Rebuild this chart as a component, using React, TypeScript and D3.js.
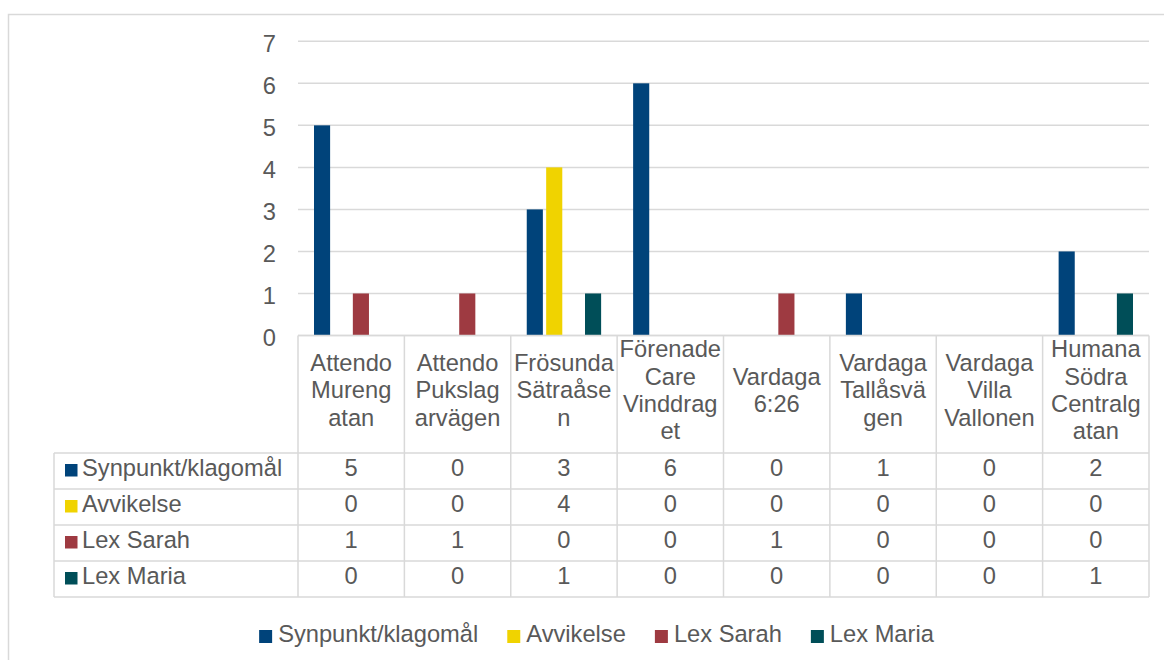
import React, { useMemo } from "react";
import * as d3 from "d3";

const categories = [
  "Attendo Murengatan",
  "Attendo Pukslagarvägen",
  "Frösunda Sätraåsen",
  "Förenade Care Vinddraget",
  "Vardaga 6:26",
  "Vardaga Tallåsvägen",
  "Vardaga Villa Vallonen",
  "Humana Södra Centralgatan",
];
const categoryLines = [
  ["Attendo", "Mureng", "atan"],
  ["Attendo", "Pukslag", "arvägen"],
  ["Frösunda", "Sätraåse", "n"],
  ["Förenade", "Care", "Vinddrag", "et"],
  ["Vardaga", "6:26"],
  ["Vardaga", "Tallåsvä", "gen"],
  ["Vardaga", "Villa", "Vallonen"],
  ["Humana", "Södra", "Centralg", "atan"],
];
const seriesNames = ["Synpunkt/klagomål", "Avvikelse", "Lex Sarah", "Lex Maria"];
const seriesColors = ["#00437a", "#f0d300", "#9e3a41", "#004e58"];
const synpunkt = [5, 0, 3, 6, 0, 1, 0, 2];
const avvikelse = [0, 0, 4, 0, 0, 0, 0, 0];
const lexSarah = [1, 1, 0, 0, 1, 0, 0, 0];
const lexMaria = [0, 0, 1, 0, 0, 0, 0, 1];
const seriesValues = [synpunkt, avvikelse, lexSarah, lexMaria];
const yTicks = [0, 1, 2, 3, 4, 5, 6, 7];

const FONT = "'Liberation Sans', Arial, sans-serif";
const FS = 23.7;
const TXT = "#595959";
const LINE = "#d9d9d9";

export default function App() {
  const W = 1164, H = 660;
  const plotL = 298, plotR = 1149, plotT = 41.3, plotB = 335.5;
  const tableL = 54;
  const headerB = 453;
  const rowH = 36;

  const x = d3.scaleBand<string>().domain(categories).range([plotL, plotR]).padding(0);
  const bw = x.bandwidth();
  const xs = d3
    .scaleBand<string>()
    .domain(seriesNames)
    .range([16, bw - 16])
    .paddingInner(0.17)
    .paddingOuter(0);
  const y = d3.scaleLinear().domain([0, 7]).range([plotB, plotT]);

  const widths = useMemo(() => {
    const c = document.createElement("canvas").getContext("2d");
    if (!c) return seriesNames.map((s) => s.length * 12);
    c.font = `${FS}px 'Liberation Sans'`;
    return seriesNames.map((s) => c.measureText(s).width);
  }, []);

  const sq = 13, gapT = 6, gapItem = 29;
  const total = widths.reduce((a, w) => a + sq + gapT + w, 0) + gapItem * (seriesNames.length - 1);
  let lx = 596.5 - total / 2;
  const legendItems = seriesNames.map((s, i) => {
    const item = { name: s, color: seriesColors[i], x: lx };
    lx += sq + gapT + widths[i] + gapItem;
    return item;
  });

  const tableB = headerB + rowH * seriesNames.length;
  const bounds = categories.map((c) => x(c) as number).concat([plotR]);

  return (
    <svg
      width={W}
      height={H}
      style={{ position: "absolute", left: 0, top: 0, background: "#fff" }}
      fontFamily={FONT}
    >
      <rect x={0} y={0} width={W} height={H} fill="#fff" />
      <rect x={8.5} y={14.5} width={1200} height={700} fill="none" stroke={LINE} strokeWidth={1.5} />

      {/* gridlines */}
      {yTicks.map((t) => (
        <line key={"g" + t} x1={plotL} x2={plotR} y1={y(t)} y2={y(t)} stroke={LINE} strokeWidth={1.5} />
      ))}
      {yTicks.map((t) => (
        <text key={"t" + t} x={276} y={y(t) + 10.4} textAnchor="end" fontSize={FS} fill={TXT}>
          {t}
        </text>
      ))}

      {/* bars */}
      {categories.map((c, ci) =>
        seriesNames.map((s, si) => {
          const v = seriesValues[si][ci];
          if (!v) return null;
          return (
            <rect
              key={c + s}
              x={(x(c) as number) + (xs(s) as number)}
              y={y(v)}
              width={xs.bandwidth()}
              height={y(0) - y(v)}
              fill={seriesColors[si]}
            />
          );
        })
      )}

      {/* table lines */}
      <line x1={plotL} x2={plotR} y1={plotB} y2={plotB} stroke={LINE} strokeWidth={1.5} />
      {seriesNames.map((s, i) => (
        <line
          key={"h" + s}
          x1={tableL}
          x2={plotR}
          y1={headerB + i * rowH}
          y2={headerB + i * rowH}
          stroke={LINE}
          strokeWidth={1.5}
        />
      ))}
      <line x1={tableL} x2={plotR} y1={tableB} y2={tableB} stroke={LINE} strokeWidth={1.5} />
      <line x1={tableL} x2={tableL} y1={headerB} y2={tableB} stroke={LINE} strokeWidth={1.5} />
      {bounds.map((b, i) => (
        <line key={"v" + i} x1={b} x2={b} y1={plotB} y2={tableB} stroke={LINE} strokeWidth={1.5} />
      ))}

      {/* category headers */}
      {categories.map((c, ci) => {
        const lines = categoryLines[ci];
        const cx = (x(c) as number) + bw / 2;
        return (
          <text key={"c" + c} textAnchor="middle" fontSize={FS} fill={TXT}>
            {lines.map((l, li) => (
              <tspan key={li} x={cx} y={398.2 + (li - (lines.length - 1) / 2) * 27.4}>
                {l}
              </tspan>
            ))}
          </text>
        );
      })}

      {/* table rows */}
      {seriesNames.map((s, si) => {
        const top = headerB + si * rowH;
        return (
          <g key={"r" + s}>
            <rect x={65} y={top + 11} width={12.5} height={12.5} fill={seriesColors[si]} />
            <text x={82} y={top + 23} fontSize={FS} fill={TXT}>
              {s}
            </text>
            {categories.map((c, ci) => (
              <text
                key={c}
                x={(x(c) as number) + bw / 2}
                y={top + 23}
                textAnchor="middle"
                fontSize={FS}
                fill={TXT}
              >
                {seriesValues[si][ci]}
              </text>
            ))}
          </g>
        );
      })}

      {/* legend */}
      {legendItems.map((it) => (
        <g key={"l" + it.name}>
          <rect x={it.x} y={630} width={sq} height={sq} fill={it.color} />
          <text x={it.x + sq + gapT} y={642} fontSize={FS} fill={TXT}>
            {it.name}
          </text>
        </g>
      ))}
    </svg>
  );
}
